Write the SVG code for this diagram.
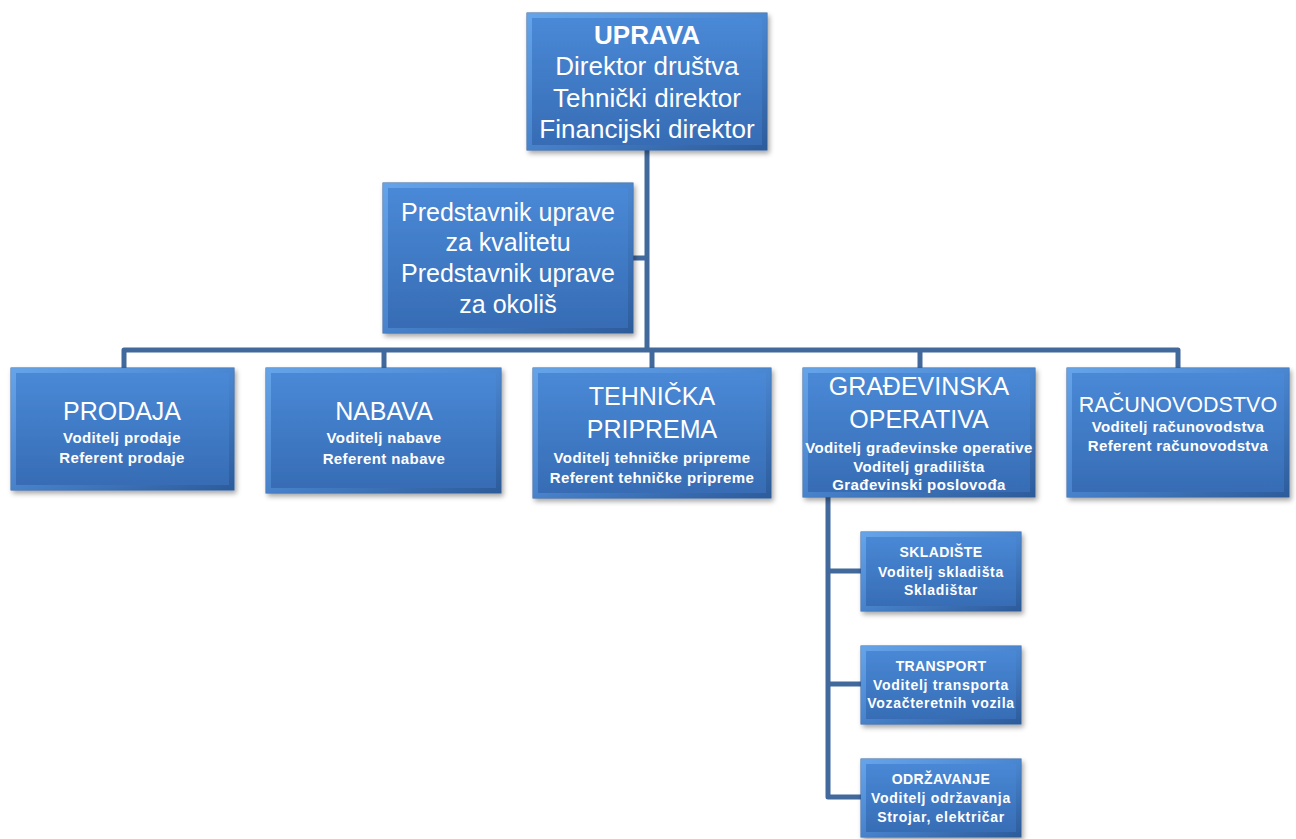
<svg xmlns="http://www.w3.org/2000/svg" width="1296" height="839" viewBox="0 0 1296 839">
<defs>
<linearGradient id="boxFill" x1="0" y1="0" x2="0" y2="1">
<stop offset="0" stop-color="#4a8ad8"/>
<stop offset="1" stop-color="#366bb3"/>
</linearGradient>
<linearGradient id="bevel" x1="0" y1="0" x2="1" y2="1">
<stop offset="0" stop-color="#6aa8ec"/>
<stop offset="0.5" stop-color="#4a86cf"/>
<stop offset="1" stop-color="#2c5a98"/>
</linearGradient>
<filter id="shadow" x="-10%" y="-10%" width="125%" height="130%">
<feDropShadow dx="2" dy="3" stdDeviation="2.5" flood-color="#000" flood-opacity="0.35"/>
</filter>
</defs>
<style>
.box{fill:url(#boxFill);stroke:#2f5f9f;stroke-width:1;filter:url(#shadow)}
.bev{fill:none;stroke:url(#bevel);stroke-width:5;opacity:0.85}
.conn{fill:none;stroke:#41699c;stroke-width:5;stroke-linejoin:round}
text{font-family:"Liberation Sans",Arial,sans-serif;fill:#ffffff;text-anchor:middle}
.t1{font-size:26px}
.tb{font-size:26px;font-weight:bold}
.pr{font-size:25px}
.h{font-size:25px}
.s{font-size:15px;font-weight:bold;letter-spacing:0.4px}
.ss{font-size:14px;font-weight:bold;letter-spacing:0.7px}
.sh{font-size:14px;font-weight:bold;letter-spacing:0.4px}
</style>

<g id="connectors">
<path class="conn" d="M647,150 V350"/>
<path class="conn" d="M633,258 H647"/>
<path class="conn" d="M124,368 V350 H1178 V368"/>
<path class="conn" d="M384,350 V368"/>
<path class="conn" d="M652,350 V368"/>
<path class="conn" d="M920,350 V368"/>
<path class="conn" d="M828,497 V797 H861"/>
<path class="conn" d="M828,571 H861"/>
<path class="conn" d="M828,684 H861"/>
</g>

<g id="uprava">
<rect class="box" x="527" y="13" width="240" height="137"/>
<rect class="bev" x="529.5" y="15.5" width="235" height="132"/>
<text class="tb" x="647" y="44">UPRAVA</text>
<text class="t1" x="647" y="75">Direktor društva</text>
<text class="t1" x="647" y="107">Tehnički direktor</text>
<text class="t1" x="647" y="138">Financijski direktor</text>
</g>

<g id="predstavnik">
<rect class="box" x="383" y="183" width="250" height="150"/>
<rect class="bev" x="385.5" y="185.5" width="245" height="145"/>
<text class="pr" x="508" y="221">Predstavnik uprave</text>
<text class="pr" x="508" y="251">za kvalitetu</text>
<text class="pr" x="508" y="282">Predstavnik uprave</text>
<text class="pr" x="508" y="313">za okoliš</text>
</g>

<g id="prodaja">
<rect class="box" x="11" y="368" width="223" height="122"/>
<rect class="bev" x="13.5" y="370.5" width="218" height="117"/>
<text class="h" x="122" y="420">PRODAJA</text>
<text class="s" x="122" y="443">Voditelj prodaje</text>
<text class="s" x="122" y="463">Referent prodaje</text>
</g>

<g id="nabava">
<rect class="box" x="266" y="368" width="235" height="125"/>
<rect class="bev" x="268.5" y="370.5" width="230" height="120"/>
<text class="h" x="384" y="420">NABAVA</text>
<text class="s" x="384" y="443">Voditelj nabave</text>
<text class="s" x="384" y="464">Referent nabave</text>
</g>

<g id="tehnicka">
<rect class="box" x="533" y="368" width="238" height="130"/>
<rect class="bev" x="535.5" y="370.5" width="233" height="125"/>
<text class="h" x="652" y="405">TEHNIČKA</text>
<text class="h" x="652" y="438">PRIPREMA</text>
<text class="s" x="652" y="463">Voditelj tehničke pripreme</text>
<text class="s" x="652" y="483">Referent tehničke pripreme</text>
</g>

<g id="gradjevinska">
<rect class="box" x="803" y="368" width="232" height="129"/>
<rect class="bev" x="805.5" y="370.5" width="227" height="124"/>
<text class="h" x="919" y="395">GRAĐEVINSKA</text>
<text class="h" x="919" y="428">OPERATIVA</text>
<text class="s" x="919" y="453">Voditelj građevinske operative</text>
<text class="s" x="919" y="472">Voditelj gradilišta</text>
<text class="s" x="919" y="490">Građevinski poslovođa</text>
</g>

<g id="racunovodstvo">
<rect class="box" x="1067" y="368" width="222" height="129"/>
<rect class="bev" x="1069.5" y="370.5" width="217" height="124"/>
<text x="1178" y="412" style="font-size:21.5px">RAČUNOVODSTVO</text>
<text class="s" x="1178" y="432">Voditelj računovodstva</text>
<text class="s" x="1178" y="451">Referent računovodstva</text>
</g>

<g id="skladiste">
<rect class="box" x="861" y="532" width="160" height="79"/>
<rect class="bev" x="863.5" y="534.5" width="155" height="74"/>
<text class="sh" x="941" y="557">SKLADIŠTE</text>
<text class="ss" x="941" y="577">Voditelj skladišta</text>
<text class="ss" x="941" y="595">Skladištar</text>
</g>

<g id="transport">
<rect class="box" x="861" y="646" width="160" height="78"/>
<rect class="bev" x="863.5" y="648.5" width="155" height="73"/>
<text class="sh" x="941" y="671">TRANSPORT</text>
<text class="ss" x="941" y="690">Voditelj transporta</text>
<text class="ss" x="941" y="708">Vozačteretnih vozila</text>
</g>

<g id="odrzavanje">
<rect class="box" x="861" y="759" width="160" height="78"/>
<rect class="bev" x="863.5" y="761.5" width="155" height="73"/>
<text class="sh" x="941" y="784">ODRŽAVANJE</text>
<text class="ss" x="941" y="803">Voditelj održavanja</text>
<text class="ss" x="941" y="822">Strojar, električar</text>
</g>
</svg>
